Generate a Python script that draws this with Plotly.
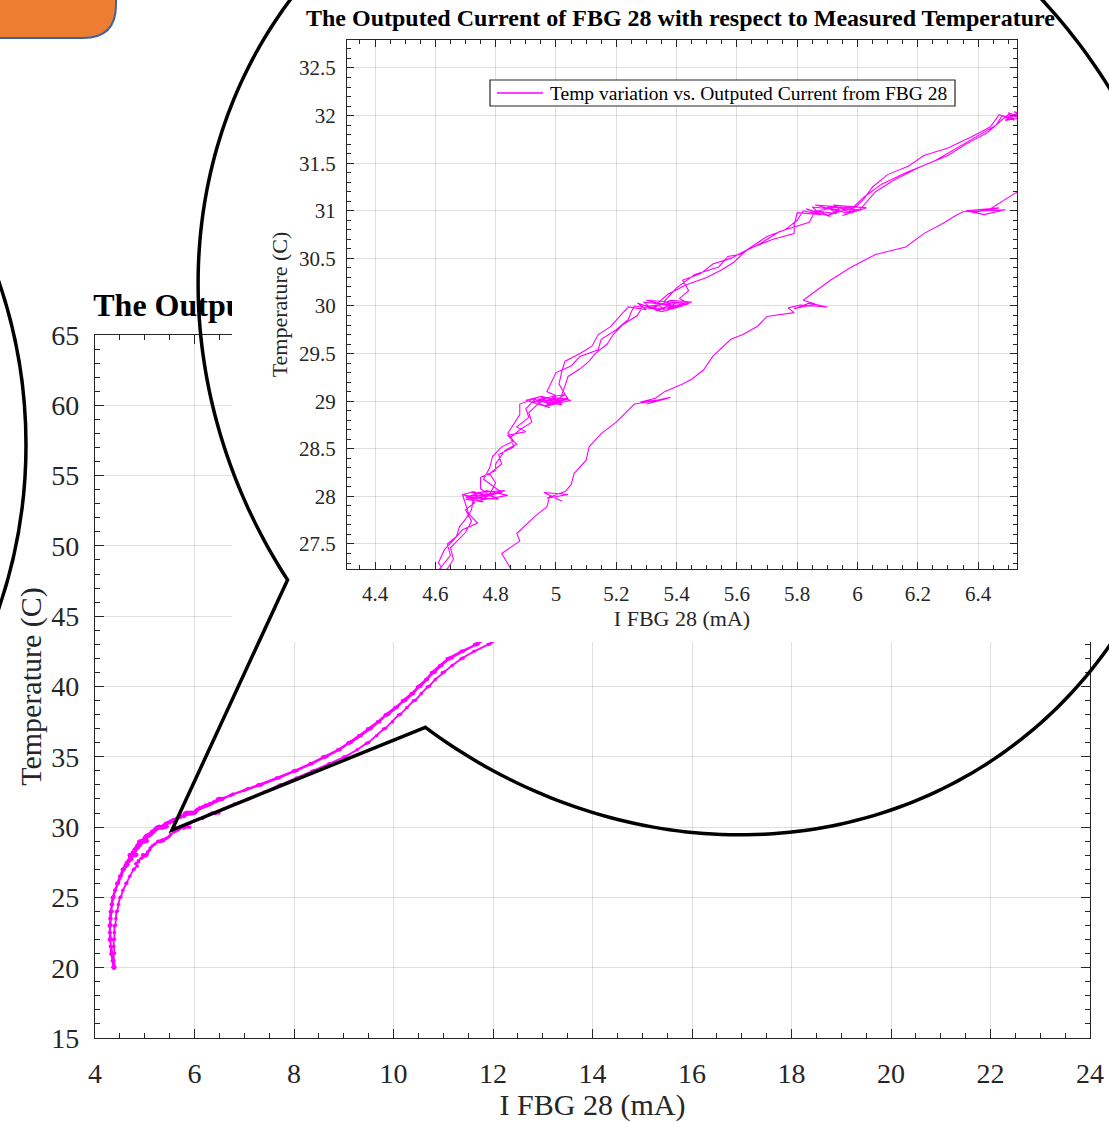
import numpy as np
import plotly.graph_objects as go

# ---------------------------------------------------------------------------
# FBG 28 output current (mA) vs measured temperature (C), in recording order.
# Each pair is (current, temperature); dwell points at every set temperature
# give the small noisy clusters.
# ---------------------------------------------------------------------------
sweep_up_1 = [
    (4.38, 20.00), (4.36, 20.04), (4.37, 19.97), (4.35, 20.50),
    (4.34, 21.00), (4.36, 21.03), (4.33, 20.98), (4.32, 21.50),
    (4.31, 22.00), (4.33, 22.02), (4.30, 21.97), (4.30, 22.50),
    (4.30, 23.00), (4.32, 23.03), (4.29, 22.98), (4.31, 23.50),
    (4.32, 24.00), (4.34, 24.02), (4.31, 23.97), (4.34, 24.50),
    (4.36, 25.00), (4.38, 25.03), (4.35, 24.98), (4.40, 25.50),
    (4.45, 26.00), (4.47, 26.02), (4.44, 25.97), (4.50, 26.50),
    (4.56, 27.00), (4.58, 27.03), (4.55, 26.98),
    (4.61, 27.18), (4.62, 27.26), (4.61, 27.30), (4.63, 27.44), (4.66, 27.54),
    (4.69, 27.65), (4.74, 27.72), (4.71, 27.82), (4.70, 27.92),
    (4.69, 28.02), (4.76, 27.97), (4.72, 28.05), (4.80, 27.99), (4.74, 28.04),
    (4.83, 28.06), (4.71, 27.96), (4.78, 28.01), (4.75, 28.08),
    (4.75, 28.20), (4.80, 28.27), (4.80, 28.34), (4.83, 28.48), (4.87, 28.55),
    (4.84, 28.64), (4.90, 28.68), (4.87, 28.73), (4.91, 28.83), (4.90, 28.92),
    (4.93, 29.02), (4.98, 28.97), (4.95, 29.05), (5.02, 29.00), (4.96, 28.95),
    (5.04, 29.03), (4.92, 28.99), (5.00, 29.06), (4.97, 29.10),
    (4.99, 29.23), (5.00, 29.30), (5.05, 29.37), (5.08, 29.47), (5.14, 29.54),
    (5.15, 29.65), (5.20, 29.75), (5.24, 29.86), (5.25, 29.94),
    (5.26, 30.00), (5.32, 29.97), (5.29, 30.04), (5.38, 30.01), (5.33, 29.95),
    (5.43, 30.03), (5.30, 30.06), (5.40, 29.98), (5.36, 30.05),
    (5.40, 30.19), (5.46, 30.33), (5.54, 30.41), (5.57, 30.52), (5.61, 30.54),
    (5.70, 30.73), (5.76, 30.80), (5.80, 30.90),
    (5.82, 31.00), (5.88, 30.96), (5.85, 31.04), (5.94, 31.01), (5.90, 30.95),
    (5.98, 31.03), (5.86, 31.06), (5.96, 30.98), (6.01, 31.02),
    (6.06, 31.20), (6.12, 31.32), (6.20, 31.45), (6.26, 31.53), (6.33, 31.66),
    (6.41, 31.80), (6.46, 31.90),
    (6.48, 32.00), (6.52, 31.96), (6.50, 32.03), (6.55, 31.98), (6.49, 31.95),
    (6.54, 32.04),
    (6.75, 32.30), (7.05, 32.70),
    (7.28, 33.00), (7.33, 33.03), (7.27, 32.97), (7.65, 33.50),
    (8.00, 34.00), (8.04, 34.02), (7.98, 33.97), (8.32, 34.50),
    (8.60, 35.00), (8.64, 35.03), (8.58, 34.98), (8.88, 35.50),
    (9.10, 36.00), (9.14, 36.02), (9.08, 35.97), (9.30, 36.50),
    (9.50, 37.00), (9.54, 37.03), (9.48, 36.98), (9.68, 37.50),
    (9.85, 38.00), (9.89, 38.02), (9.83, 37.97), (10.03, 38.50),
    (10.20, 39.00), (10.24, 39.03), (10.18, 38.98), (10.36, 39.50),
    (10.50, 40.00), (10.54, 40.02), (10.48, 39.97), (10.65, 40.50),
    (10.78, 41.00), (10.82, 41.03), (10.76, 40.98), (10.93, 41.50),
    (11.10, 42.00), (11.14, 42.02), (11.08, 41.97), (11.36, 42.50),
    (11.65, 43.00), (11.69, 43.03), (11.63, 42.98), (11.88, 43.50),
    (12.10, 44.00), (12.14, 44.02), (12.35, 44.50),
]

sweep_down_1 = [
    (12.40, 44.50), (12.16, 44.03), (12.12, 43.98), (11.92, 43.50),
    (11.70, 43.02), (11.66, 42.97), (11.40, 42.50),
    (11.18, 42.03), (11.13, 41.98), (10.97, 41.50),
    (10.83, 41.02), (10.79, 40.97), (10.68, 40.50),
    (10.55, 40.03), (10.51, 39.98), (10.40, 39.50),
    (10.24, 39.02), (10.20, 38.97), (10.07, 38.50),
    (9.90, 38.03), (9.86, 37.98), (9.72, 37.50),
    (9.55, 37.02), (9.51, 36.97), (9.35, 36.50),
    (9.15, 36.03), (9.11, 35.98), (8.92, 35.50),
    (8.66, 35.02), (8.62, 34.97), (8.36, 34.50),
    (8.06, 34.03), (8.02, 33.98), (7.70, 33.50),
    (7.35, 33.02), (7.31, 32.97), (7.00, 32.60), (6.72, 32.25),
    (6.53, 32.02), (6.49, 31.98), (6.52, 31.95), (6.47, 32.01),
    (6.44, 31.88), (6.38, 31.78), (6.30, 31.66), (6.22, 31.58), (6.17, 31.47),
    (6.10, 31.38), (6.05, 31.25), (6.02, 31.12),
    (5.99, 31.03), (5.92, 30.98), (5.95, 31.05), (5.87, 31.00), (5.91, 30.94),
    (5.83, 31.02), (5.88, 30.96), (5.80, 30.98),
    (5.79, 30.85), (5.79, 30.76), (5.72, 30.70), (5.64, 30.60), (5.58, 30.50),
    (5.52, 30.44), (5.48, 30.34), (5.42, 30.27), (5.44, 30.16), (5.41, 30.08),
    (5.44, 30.02), (5.37, 29.97), (5.40, 30.04), (5.31, 30.00), (5.35, 29.94),
    (5.27, 30.03), (5.30, 29.96), (5.24, 29.99),
    (5.21, 29.88), (5.18, 29.78), (5.14, 29.70), (5.12, 29.58), (5.08, 29.50),
    (5.03, 29.42), (5.02, 29.32), (5.01, 29.18),
    (5.04, 29.02), (4.97, 28.96), (5.00, 29.04), (4.94, 28.98), (4.98, 28.93),
    (4.90, 29.01), (4.95, 29.05), (4.88, 28.97),
    (4.88, 28.86), (4.86, 28.76), (4.84, 28.66), (4.86, 28.58), (4.82, 28.52),
    (4.79, 28.42), (4.78, 28.30), (4.76, 28.18),
    (4.82, 28.04), (4.74, 27.98), (4.78, 28.03), (4.70, 27.97), (4.76, 27.94),
    (4.69, 28.02), (4.73, 28.05),
    (4.72, 27.86), (4.70, 27.76), (4.68, 27.68), (4.67, 27.58), (4.64, 27.50),
    (4.65, 27.38), (4.63, 27.30), (4.60, 27.18),
    (4.57, 27.02), (4.55, 26.97), (4.50, 26.50),
    (4.46, 26.03), (4.44, 25.98), (4.40, 25.50),
    (4.37, 25.02), (4.35, 24.97), (4.33, 24.50),
    (4.33, 24.03), (4.31, 23.98), (4.30, 23.50),
    (4.31, 23.02), (4.29, 22.97), (4.30, 22.50),
    (4.32, 22.03), (4.30, 21.98), (4.33, 21.50),
    (4.35, 21.02), (4.33, 20.97), (4.35, 20.50),
    (4.37, 20.03), (4.39, 19.98),
]

sweep_up_2 = [
    (4.38, 20.02), (4.36, 20.50),
    (4.34, 21.02), (4.32, 20.97), (4.31, 21.50),
    (4.31, 22.03), (4.29, 21.98), (4.30, 22.50),
    (4.31, 23.02), (4.30, 22.97), (4.32, 23.50),
    (4.33, 24.03), (4.32, 23.98), (4.35, 24.50),
    (4.37, 25.02), (4.36, 24.97), (4.41, 25.50),
    (4.47, 26.03), (4.46, 25.98), (4.52, 26.50),
    (4.59, 27.02), (4.57, 26.97),
    (4.64, 27.24), (4.66, 27.34), (4.65, 27.46), (4.68, 27.56), (4.70, 27.62),
    (4.72, 27.74), (4.70, 27.86), (4.73, 27.93),
    (4.71, 28.00), (4.79, 28.03), (4.75, 27.96), (4.84, 28.01), (4.77, 28.06),
    (4.70, 27.99), (4.81, 27.97), (4.78, 28.02),
    (4.80, 28.14), (4.78, 28.24), (4.82, 28.34), (4.81, 28.44), (4.86, 28.52),
    (4.85, 28.62), (4.88, 28.70), (4.92, 28.78), (4.91, 28.88),
    (4.95, 29.00), (5.02, 28.96), (4.99, 29.04), (5.05, 29.01), (4.97, 28.95),
    (5.03, 29.07), (4.94, 29.02), (5.01, 28.99),
    (5.03, 29.16), (5.04, 29.26), (5.08, 29.34), (5.11, 29.42), (5.13, 29.50),
    (5.17, 29.60), (5.19, 29.70), (5.22, 29.80), (5.27, 29.90),
    (5.29, 30.01), (5.36, 29.96), (5.33, 30.03), (5.42, 30.00), (5.35, 29.94),
    (5.45, 30.04), (5.38, 30.06), (5.32, 29.98),
    (5.37, 30.12), (5.43, 30.22), (5.50, 30.30), (5.55, 30.38), (5.59, 30.46),
    (5.63, 30.58), (5.68, 30.66), (5.74, 30.78), (5.84, 30.88),
    (5.86, 31.00), (5.93, 30.97), (5.90, 31.04), (6.00, 31.01), (5.95, 30.95),
    (6.03, 31.03), (5.92, 31.06), (5.97, 30.99),
    (6.02, 31.14), (6.08, 31.28), (6.16, 31.40), (6.24, 31.50), (6.30, 31.58),
    (6.36, 31.70), (6.43, 31.82), (6.47, 31.93),
    (6.50, 32.01), (6.55, 31.97), (6.52, 32.04), (6.57, 32.00),
    (6.78, 32.35), (7.08, 32.75),
    (7.31, 33.02), (7.29, 32.98), (7.66, 33.50),
    (8.03, 34.03), (8.01, 33.98), (8.34, 34.50),
    (8.63, 35.02), (8.61, 34.97), (8.90, 35.50),
    (9.13, 36.03), (9.11, 35.98), (9.33, 36.50),
    (9.53, 37.02), (9.51, 36.97), (9.70, 37.50),
    (9.88, 38.03), (9.86, 37.98), (10.05, 38.50),
    (10.22, 39.02), (10.20, 38.97), (10.38, 39.50),
    (10.53, 40.03), (10.51, 39.98), (10.66, 40.50),
    (10.81, 41.02), (10.79, 40.97), (10.95, 41.50),
    (11.13, 42.03), (11.11, 41.98), (11.38, 42.50),
    (11.68, 43.02), (11.66, 42.97), (11.90, 43.50),
    (12.13, 44.03), (12.11, 43.98), (12.38, 44.50),
]

sweep_down_2 = [
    (12.75, 44.50), (12.47, 44.02), (12.43, 43.97), (12.18, 43.50),
    (11.94, 43.03), (11.90, 42.98), (11.62, 42.50),
    (11.40, 42.02), (11.36, 41.97), (11.18, 41.50),
    (11.02, 41.03), (10.98, 40.98), (10.84, 40.50),
    (10.72, 40.02), (10.68, 39.97), (10.56, 39.50),
    (10.44, 39.03), (10.40, 38.98), (10.27, 38.50),
    (10.14, 38.02), (10.10, 37.97), (9.98, 37.50),
    (9.84, 37.03), (9.80, 36.98), (9.66, 36.50),
    (9.50, 36.02), (9.46, 35.97), (9.27, 35.50),
    (9.04, 35.03), (9.00, 34.98), (8.70, 34.50),
    (8.40, 34.02), (8.36, 33.97), (8.05, 33.50),
    (7.74, 33.03), (7.70, 32.98), (7.40, 32.50),
    (7.10, 32.02), (7.06, 31.97), (6.80, 31.65),
    (6.60, 31.30), (6.52, 31.18), (6.47, 31.08),
    (6.44, 31.02), (6.38, 30.98), (6.47, 31.03), (6.36, 31.00), (6.42, 30.96),
    (6.49, 31.01), (6.35, 30.99),
    (6.32, 30.94), (6.29, 30.88), (6.22, 30.76), (6.19, 30.69), (6.16, 30.62),
    (6.06, 30.54), (5.98, 30.41), (5.91, 30.27), (5.85, 30.13), (5.82, 30.06),
    (5.86, 30.02), (5.79, 29.97), (5.84, 30.03), (5.90, 29.99), (5.81, 30.01),
    (5.77, 29.98),
    (5.79, 29.93), (5.70, 29.89), (5.67, 29.79), (5.62, 29.70), (5.58, 29.65),
    (5.52, 29.47), (5.49, 29.33), (5.45, 29.23), (5.42, 29.18), (5.36, 29.10),
    (5.33, 29.03), (5.28, 28.99), (5.36, 29.02), (5.30, 28.97), (5.38, 29.04),
    (5.32, 29.00), (5.27, 28.98),
    (5.26, 28.97), (5.20, 28.78), (5.15, 28.66), (5.11, 28.52), (5.10, 28.38),
    (5.06, 28.24), (5.05, 28.12),
    (5.03, 28.05), (4.97, 27.98), (5.04, 28.02), (4.96, 28.04), (5.02, 27.95),
    (4.98, 28.01),
    (4.97, 27.89), (4.93, 27.79), (4.87, 27.61), (4.88, 27.53), (4.82, 27.40),
    (4.85, 27.24),
    (4.79, 27.02), (4.77, 26.97), (4.70, 26.50),
    (4.64, 26.03), (4.62, 25.98), (4.56, 25.50),
    (4.52, 25.02), (4.50, 24.97), (4.47, 24.50),
    (4.45, 24.03), (4.43, 23.98), (4.42, 23.50),
    (4.41, 23.02), (4.39, 22.97), (4.39, 22.50),
    (4.39, 22.03), (4.37, 21.98), (4.38, 21.50),
    (4.39, 21.02), (4.37, 20.97), (4.38, 20.50),
    (4.40, 20.03), (4.38, 19.98),
]

sweeps = [sweep_up_1, sweep_down_1, sweep_up_2, sweep_down_2]
current_ma = [p[0] for s in sweeps for p in s]
temp_c = [p[1] for s in sweeps for p in s]

TITLE = "The Outputed Current of FBG 28 with respect to Measured Temperature"
SERIES = "Temp variation vs. Outputed Current from FBG 28"
X_LABEL = "I FBG 28 (mA)"
Y_LABEL = "Temperature (C)"

# ---------------------------------------------------------------------------
# Styling / page geometry (pixels on a 1109 x 1122 page)
# ---------------------------------------------------------------------------
W, H = 1109, 1122
FONT = "Liberation Serif"
INK = "#262626"
GRID = "rgba(38,38,38,0.15)"
MAGENTA = "#FF00FF"


def hx(px):
    return px / W


def vy(py):
    return 1 - py / H


def axis(size, dtick, minor_dtick, ticklen, minorlen, standoff):
    return dict(
        showline=True, linecolor=INK, linewidth=1.3, mirror="allticks",
        ticks="inside", ticklen=ticklen, tickwidth=1.1, tickcolor=INK,
        showgrid=True, gridcolor=GRID, gridwidth=1, zeroline=False,
        tickfont=dict(family=FONT, size=size, color=INK),
        dtick=dtick, ticklabelstandoff=standoff,
        minor=dict(dtick=minor_dtick, ticks="inside", ticklen=minorlen,
                   tickwidth=1, tickcolor=INK, showgrid=False),
        fixedrange=True,
    )


fig = go.Figure()

# main view
fig.add_trace(go.Scatter(
    x=current_ma, y=temp_c, mode="lines+markers",
    line=dict(color=MAGENTA, width=1.8),
    marker=dict(size=3.5, color=MAGENTA),
    xaxis="x", yaxis="y", showlegend=False, hoverinfo="skip",
))
# main title, on its own strip above the main axes (under the inset panel)
fig.add_trace(go.Scatter(
    x=[0.5], y=[0.5], mode="text", text=[TITLE],
    textfont=dict(family=FONT, size=32, color="black", weight="bold"),
    cliponaxis=False, xaxis="x2", yaxis="y2", showlegend=False, hoverinfo="skip",
))
# blank panel behind the zoomed inset
fig.add_trace(go.Scatter(x=[None], y=[None], xaxis="x3", yaxis="y3",
                         showlegend=False, hoverinfo="skip"))
# zoomed inset
fig.add_trace(go.Scatter(
    x=current_ma, y=temp_c, mode="lines",
    line=dict(color=MAGENTA, width=1.1),
    name=SERIES, xaxis="x4", yaxis="y4", showlegend=False, hoverinfo="skip",
))

main_x = axis(28, 2, 0.5, 9, 5, 10)
main_x.update(domain=[hx(95), hx(1090)], range=[4, 24], anchor="y",
              title=dict(text=X_LABEL, font=dict(family=FONT, size=30, color=INK), standoff=12))
main_y = axis(28, 5, 1, 9, 5, 9)
main_y.update(domain=[vy(1038), vy(335)], range=[15, 65], anchor="x",
              title=dict(text=Y_LABEL, font=dict(family=FONT, size=30, color=INK), standoff=0))

ins_x = axis(21, 0.2, 0.05, 7, 4, 6)
ins_x.update(domain=[hx(347), hx(1017)], range=[4.307, 6.529], anchor="y4",
             title=dict(text=X_LABEL, font=dict(family=FONT, size=22, color=INK), standoff=4))
ins_y = axis(21, 0.5, 0.1, 7, 4, 6)
ins_y.update(domain=[vy(569), vy(40)], range=[27.237, 32.794], anchor="x4",
             title=dict(text=Y_LABEL, font=dict(family=FONT, size=22, color=INK), standoff=5))

hidden = dict(range=[0, 1], visible=False, fixedrange=True)

# callout bubble: rotated ellipse with a wedge pointing at the zoomed region
cx, cy, ra, rb, phi = 695.3, 329.0, 524.0, 478.0, np.radians(50.4)


def ell(deg):
    t = np.radians(deg)
    x = cx + ra * np.cos(t) * np.cos(phi) - rb * np.sin(t) * np.sin(phi)
    y = cy + ra * np.cos(t) * np.sin(phi) + rb * np.sin(t) * np.cos(phi)
    return x, y


tip = (172, 830)
t_right, t_left = 75.1, 97.3
pts = [ell(t_right + 360), tip, ell(t_left)]
pts += [ell(t) for t in np.linspace(t_left, t_right + 360, 340)]
bubble = "M " + " L ".join(f"{hx(x):.5f},{vy(y):.5f}" for x, y in pts) + " Z"

r = 33
tab = (f"M {hx(-20)},{vy(-60)} L {hx(116)},{vy(-60)} L {hx(116)},{vy(38 - r)} "
       f"Q {hx(116)},{vy(38)} {hx(116 - r)},{vy(38)} L {hx(-20)},{vy(38)} Z")

# series key inside the inset
key_box = dict(x0=490, x1=955, y0=80, y1=106)
key_y = (key_box["y0"] + key_box["y1"]) / 2

shapes = [
    dict(type="path", path=tab, xref="paper", yref="paper", layer="above",
         fillcolor="#ED7D31", line=dict(color="#3B63A6", width=2)),
    dict(type="circle", xref="paper", yref="paper", layer="above",
         x0=hx(-479 - 505), x1=hx(-479 + 505), y0=vy(445 + 505), y1=vy(445 - 505),
         line=dict(color="black", width=3.5)),
    dict(type="path", path=bubble, xref="paper", yref="paper", layer="above",
         line=dict(color="black", width=3.5)),
    dict(type="rect", xref="paper", yref="paper", layer="above",
         x0=hx(key_box["x0"]), x1=hx(key_box["x1"]),
         y0=vy(key_box["y1"]), y1=vy(key_box["y0"]),
         fillcolor="white", line=dict(color=INK, width=1.2)),
    dict(type="line", xref="paper", yref="paper", layer="above",
         x0=hx(497), x1=hx(543), y0=vy(key_y), y1=vy(key_y),
         line=dict(color=MAGENTA, width=1.3)),
]

annotations = [
    dict(text=f"<b>{TITLE}</b>", x=hx(680), y=vy(18), xref="paper", yref="paper",
         xanchor="center", yanchor="middle", showarrow=False,
         font=dict(family=FONT, size=24, color="black")),
    dict(text=SERIES, x=hx(548), y=vy(key_y), xref="paper", yref="paper",
         xanchor="left", yanchor="middle", showarrow=False,
         font=dict(family=FONT, size=19.5, color="black")),
]

fig.update_layout(
    template="none",
    width=W, height=H, autosize=False,
    margin=dict(l=0, r=0, t=0, b=0, pad=0),
    paper_bgcolor="white", plot_bgcolor="white",
    xaxis=main_x, yaxis=main_y,
    xaxis2=dict(hidden, domain=[hx(95), hx(1090)], anchor="y2"),
    yaxis2=dict(hidden, domain=[vy(324), vy(292)], anchor="x2"),
    xaxis3=dict(hidden, domain=[hx(232), 1], anchor="y3"),
    yaxis3=dict(hidden, domain=[vy(642), 1], anchor="x3"),
    xaxis4=ins_x, yaxis4=ins_y,
    shapes=shapes,
    annotations=annotations,
    showlegend=False,
)

fig.write_html("out.html", config={"displayModeBar": False})
